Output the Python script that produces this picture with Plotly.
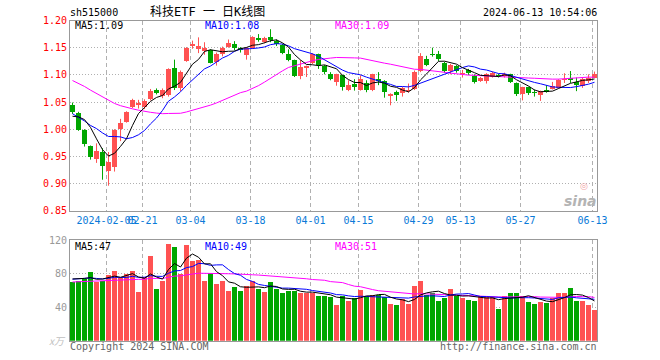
import numpy as np
import pandas as pd
import plotly.graph_objects as go

# ---------------- data ----------------
dates = [
    "2024-01-26", "2024-01-29", "2024-01-30", "2024-01-31", "2024-02-01", "2024-02-02",
    "2024-02-05", "2024-02-06", "2024-02-07", "2024-02-08", "2024-02-19", "2024-02-20",
    "2024-02-21", "2024-02-22", "2024-02-23", "2024-02-26", "2024-02-27", "2024-02-28",
    "2024-02-29", "2024-03-01", "2024-03-04", "2024-03-05", "2024-03-06", "2024-03-07",
    "2024-03-08", "2024-03-11", "2024-03-12", "2024-03-13", "2024-03-14", "2024-03-15",
    "2024-03-18", "2024-03-19", "2024-03-20", "2024-03-21", "2024-03-22", "2024-03-25",
    "2024-03-26", "2024-03-27", "2024-03-28", "2024-03-29", "2024-04-01", "2024-04-02",
    "2024-04-03", "2024-04-08", "2024-04-09", "2024-04-10", "2024-04-11", "2024-04-12",
    "2024-04-15", "2024-04-16", "2024-04-17", "2024-04-18", "2024-04-19", "2024-04-22",
    "2024-04-23", "2024-04-24", "2024-04-25", "2024-04-26", "2024-04-29", "2024-04-30",
    "2024-05-06", "2024-05-07", "2024-05-08", "2024-05-09", "2024-05-10", "2024-05-13",
    "2024-05-14", "2024-05-15", "2024-05-16", "2024-05-17", "2024-05-20", "2024-05-21",
    "2024-05-22", "2024-05-23", "2024-05-24", "2024-05-27", "2024-05-28", "2024-05-29",
    "2024-05-30", "2024-05-31", "2024-06-03", "2024-06-04", "2024-06-05", "2024-06-06",
    "2024-06-07", "2024-06-11", "2024-06-12", "2024-06-13",
]

opens = [
    1.045, 1.029, 0.999, 0.969, 0.946, 0.958, 0.923, 0.930, 1.000, 1.014,
    1.041, 1.045, 1.040, 1.056, 1.072, 1.061, 1.062, 1.113, 1.075, 1.126,
    1.153, 1.148, 1.144, 1.146, 1.123, 1.138, 1.152, 1.156, 1.150, 1.137,
    1.150, 1.168, 1.160, 1.170, 1.162, 1.155, 1.138, 1.127, 1.098, 1.1125,
    1.122, 1.138, 1.117, 1.101, 1.087, 1.099, 1.073, 1.083, 1.073, 1.085,
    1.073, 1.093, 1.089, 1.061, 1.068, 1.066, 1.070, 1.074, 1.107, 1.129,
    1.1375, 1.138, 1.122, 1.107, 1.116, 1.1008, 1.109, 1.098, 1.0885, 1.0885,
    1.0965, 1.100, 1.097, 1.101, 1.085, 1.064, 1.077, 1.067, 1.063, 1.072,
    1.074, 1.076, 1.091, 1.095, 1.087, 1.079, 1.089, 1.095,
]
highs = [
    1.049, 1.032, 1.000, 0.970, 0.974, 0.965, 0.958, 1.000, 1.019, 1.033,
    1.056, 1.054, 1.055, 1.074, 1.075, 1.075, 1.112, 1.128, 1.108, 1.151,
    1.163, 1.169, 1.160, 1.147, 1.141, 1.152, 1.165, 1.162, 1.151, 1.151,
    1.171, 1.175, 1.170, 1.184, 1.165, 1.157, 1.147, 1.128, 1.127, 1.117,
    1.140, 1.139, 1.118, 1.105, 1.102, 1.100, 1.090, 1.092, 1.099, 1.090,
    1.102, 1.105, 1.090, 1.066, 1.071, 1.078, 1.084, 1.108, 1.140, 1.135,
    1.150, 1.144, 1.124, 1.120, 1.118, 1.109, 1.111, 1.101, 1.096, 1.103,
    1.106, 1.102, 1.104, 1.102, 1.086, 1.078, 1.078, 1.073, 1.071, 1.081,
    1.087, 1.092, 1.103, 1.107, 1.095, 1.095, 1.101, 1.106,
]
lows = [
    1.028, 0.997, 0.968, 0.944, 0.938, 0.907, 0.896, 0.922, 0.978, 1.012,
    1.039, 1.038, 1.037, 1.053, 1.064, 1.057, 1.060, 1.072, 1.070, 1.124,
    1.148, 1.140, 1.137, 1.121, 1.117, 1.134, 1.150, 1.145, 1.141, 1.128,
    1.148, 1.161, 1.158, 1.160, 1.153, 1.138, 1.125, 1.096, 1.092, 1.096,
    1.120, 1.111, 1.101, 1.090, 1.080, 1.071, 1.070, 1.071, 1.071, 1.068,
    1.070, 1.081, 1.058, 1.044, 1.052, 1.060, 1.067, 1.072, 1.105, 1.116,
    1.1335, 1.1255, 1.104, 1.101, 1.104, 1.095, 1.0996, 1.084, 1.087, 1.084,
    1.095, 1.095, 1.095, 1.085, 1.061, 1.053, 1.063, 1.060, 1.052, 1.067,
    1.073, 1.075, 1.085, 1.085, 1.070, 1.076, 1.085, 1.094,
]
closes = [
    1.031, 0.999, 0.973, 0.948, 0.960, 0.932, 0.940, 0.998, 1.012, 1.031,
    1.054, 1.049, 1.052, 1.070, 1.067, 1.072, 1.110, 1.076, 1.106, 1.149,
    1.157, 1.154, 1.149, 1.122, 1.138, 1.149, 1.159, 1.150, 1.145, 1.149,
    1.169, 1.165, 1.167, 1.164, 1.157, 1.141, 1.127, 1.098, 1.114, 1.1156,
    1.138, 1.119, 1.105, 1.093, 1.101, 1.077, 1.0805, 1.078, 1.093, 1.073,
    1.101, 1.089, 1.068, 1.064, 1.063, 1.076, 1.073, 1.106, 1.135, 1.118,
    1.1365, 1.129, 1.107, 1.119, 1.107, 1.1039, 1.103, 1.087, 1.0947, 1.102,
    1.104, 1.097, 1.102, 1.087, 1.065, 1.077, 1.066, 1.066, 1.070, 1.069,
    1.079, 1.090, 1.093, 1.091, 1.082, 1.093, 1.095, 1.101,
]
volumes = [
    70.0, 71.6, 73.6, 82.0, 70.0, 71.6, 78.8, 83.6, 74.8, 80.0,
    83.6, 58.8, 75.6, 100.8, 62.0, 70.8, 116.0, 111.6, 80.0, 114.8,
    95.6, 96.8, 71.6, 80.8, 68.0, 71.6, 59.6, 63.6, 59.6, 64.8,
    71.6, 62.0, 58.8, 69.6, 62.0, 56.8, 59.6, 59.6, 57.6, 56.8,
    56.8, 54.0, 54.0, 52.8, 42.8, 54.0, 47.6, 51.6, 60.8, 53.6,
    54.8, 54.8, 52.8, 44.0, 42.8, 50.0, 44.0, 65.6, 71.0, 55.0,
    56.5, 47.6, 51.6, 62.0, 54.0, 51.6, 48.8, 47.6, 54.0, 52.8,
    52.8, 38.0, 54.0, 57.5, 56.5, 54.0, 46.8, 44.0, 46.5, 45.5,
    50.5, 57.5, 57.5, 63.5, 47.0, 47.0, 43.0, 37.0,
]
# sessions before the first visible day (needed for the moving averages)
pre_closes = [
    1.152, 1.148, 1.150, 1.145, 1.140, 1.143, 1.138, 1.135, 1.130, 1.128,
    1.125, 1.120, 1.118, 1.110, 1.105, 1.098, 1.090, 1.082, 1.075, 1.070,
    1.060, 1.045, 1.030, 1.018, 1.012, 1.005, 0.998, 1.020, 1.065,
]
pre_volumes = [
    62, 65, 60, 68, 70, 66, 64, 72, 69, 67,
    70, 73, 68, 65, 71, 74, 69, 72, 70, 75,
    68, 73, 71, 76, 78, 72, 70, 77, 80,
]

tick_dates = ["2024-02-05", "2024-02-21", "2024-03-04", "2024-03-18", "2024-04-01",
              "2024-04-15", "2024-04-29", "2024-05-13", "2024-05-27", "2024-06-13"]
tick_labels = ["2024-02-05", "02-21", "03-04", "03-18", "04-01",
               "04-15", "04-29", "05-13", "05-27", "06-13"]
price_ticks = [0.85, 0.90, 0.95, 1.00, 1.05, 1.10, 1.15, 1.20]
vol_ticks = [40, 80, 120]

# ---------------- derived ----------------
n = len(closes)
x = np.arange(n)
n_pre = len(pre_closes)
cs = pd.Series(pre_closes + closes)
vs = pd.Series(pre_volumes + volumes)
ma_p = {w: cs.rolling(w).mean().iloc[n_pre:].to_numpy() for w in (5, 10, 30)}
ma_v = {w: vs.rolling(w).mean().iloc[n_pre:].to_numpy() for w in (5, 10, 30)}

RED = "#ff5252"
GREEN = "#00a600"
up = [c >= o for o, c in zip(opens, closes)]

W, H = 660, 360
def px_x(p):
    return p / W
def px_y(p):
    return 1 - p / H

fig = go.Figure()

# candle wicks
for flag, col in ((True, RED), (False, GREEN)):
    wx, wy = [], []
    for i in range(n):
        if up[i] == flag:
            wx += [i, i, None]
            wy += [lows[i], highs[i], None]
    fig.add_trace(go.Scatter(x=wx, y=wy, mode="lines", line=dict(color=col, width=1),
                             hoverinfo="skip", xaxis="x", yaxis="y"))
# candle bodies
for flag, col in ((True, RED), (False, GREEN)):
    idx = [i for i in range(n) if up[i] == flag]
    base = [min(opens[i], closes[i]) for i in idx]
    hgt = [max(abs(closes[i] - opens[i]), 0.0016) for i in idx]
    fig.add_trace(go.Bar(x=idx, y=hgt, base=base, width=0.8, marker=dict(color=col, line=dict(width=0)),
                         xaxis="x", yaxis="y", hoverinfo="skip"))

# price moving averages
for w, col in ((30, "#ff00ff"), (10, "#0000ff"), (5, "#000000")):
    fig.add_trace(go.Scatter(x=x, y=ma_p[w], mode="lines", line=dict(color=col, width=1),
                             xaxis="x", yaxis="y", hoverinfo="skip"))

# volume bars
vcols = [RED if u else GREEN for u in up]
fig.add_trace(go.Bar(x=x, y=volumes, width=0.88, marker=dict(color=vcols, line=dict(width=0)),
                     xaxis="x2", yaxis="y2", hoverinfo="skip"))
for w, col in ((30, "#ff00ff"), (10, "#0000ff"), (5, "#000000")):
    fig.add_trace(go.Scatter(x=x, y=ma_v[w], mode="lines", line=dict(color=col, width=1),
                             xaxis="x2", yaxis="y2", hoverinfo="skip"))

tickvals = [dates.index(d) - 0.33 for d in tick_dates]
xdom = [px_x(70), px_x(597)]
BORDER = "#999999"
GRID = "#b0b0b0"
MONO = "DejaVu Sans Mono"

axis_common = dict(showline=True, linecolor=BORDER, linewidth=1, mirror=True,
                   zeroline=False, ticks="", fixedrange=True, automargin=False)

fig.update_layout(
    width=W, height=H, autosize=False,
    margin=dict(l=0, r=0, t=0, b=0, pad=0, autoexpand=False),
    paper_bgcolor="white", plot_bgcolor="white", showlegend=False,
    barmode="overlay", bargap=0,
    xaxis=dict(domain=xdom, range=[-0.42, n - 0.58], anchor="y",
               tickmode="array", tickvals=tickvals, ticktext=tick_labels, tickangle=0,
               tickfont=dict(family=MONO, size=10, color="#0a7ad8"),
               showgrid=True, gridcolor=GRID, griddash="4px,3px", gridwidth=1,
               **axis_common),
    yaxis=dict(domain=[px_y(210.7), px_y(20.5)], range=[0.85, 1.20], anchor="x",
               tickmode="array", tickvals=price_ticks, ticktext=[f"{v:.2f}" for v in price_ticks],
               tickfont=dict(family=MONO, size=10, color="#ff0000"),
               showgrid=True, gridcolor=GRID, griddash="1px,2px", gridwidth=1,
               **axis_common),
    xaxis2=dict(domain=xdom, range=[-0.42, n - 0.58], anchor="y2", matches="x",
                tickmode="array", tickvals=tickvals, showticklabels=False,
                showgrid=True, gridcolor=GRID, griddash="4px,3px", gridwidth=1,
                **axis_common),
    yaxis2=dict(domain=[px_y(340.7), px_y(240.3)], range=[0, 120], anchor="x2",
                tickmode="array", tickvals=vol_ticks, ticktext=[str(v) for v in vol_ticks],
                tickfont=dict(family=MONO, size=10, color="#999999"),
                showgrid=True, gridcolor=GRID, griddash="1px,2px", gridwidth=1,
                **axis_common),
)

def note(text, xp, yp, color="#000000", anchor="left", size=10, family=MONO):
    fig.add_annotation(text=text, x=px_x(xp), y=px_y(yp), xref="paper", yref="paper",
                       xanchor=anchor, yanchor="middle", showarrow=False,
                       font=dict(family=family, size=size, color=color), borderpad=0)

note("sh515000", 69, 13)
note("科技ETF 一 日K线图", 149, 12, size=12, family="DejaVu Sans Mono, Noto Sans CJK SC")
note("2024-06-13 10:54:06", 598, 13, anchor="right")
note("MA5:1.09", 74, 25.7)
note("MA10:1.08", 204, 25.7, color="#0000ff")
note("MA30:1.09", 334, 25.7, color="#ff00ff")
note("MA5:47", 74, 246.7)
note("MA10:49", 204, 246.7, color="#0000ff")
note("MA30:51", 334, 246.7, color="#ff00ff")
note("<i>x万</i>", 48, 340, color="#c0c0c0", size=10, family="Noto Sans CJK SC")
note("Copyright 2024 SINA.COM", 69, 346, color="#666666")
note("http://finance.sina.com.cn", 598, 346, color="#666666", anchor="right")
note("◎", 584, 186, color="#f2a6a6", anchor="center", size=9, family="DejaVu Sans")
note("<b><i>sina</i></b>", 598, 201, color="#b4b4b4", anchor="right", size=14, family="DejaVu Sans")

fig.write_html(
    "out.html",
    config={"displayModeBar": False, "staticPlot": True},
    post_script="document.body.style.margin='0';document.body.style.padding='0';"
                "document.documentElement.style.overflow='hidden';",
)
